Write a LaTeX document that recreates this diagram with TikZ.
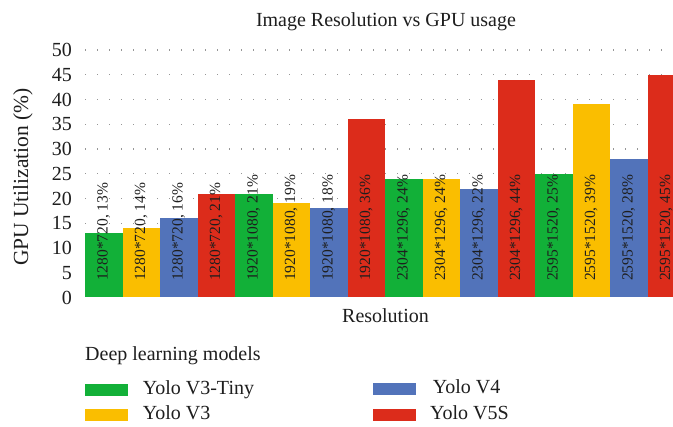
\documentclass[tikz,border=0pt]{standalone}
\usepackage{fontspec}
\setmainfont{Liberation Serif}
\definecolor{ygreen}{RGB}{18,176,56}
\definecolor{yyellow}{RGB}{250,190,0}
\definecolor{yblue}{RGB}{82,115,186}
\definecolor{yred}{RGB}{220,44,27}
\definecolor{ink}{RGB}{30,30,30}
\definecolor{gridgray}{RGB}{150,150,150}
\newcommand{\chartfont}{\fontsize{20}{24}\selectfont}
\newcommand{\yfont}{\fontsize{21.5}{24}\selectfont}
\newcommand{\barfont}{\fontsize{15.5}{18}\selectfont}
\tikzset{
  gridline/.style={gridgray, line width=1.4pt, dash pattern=on 1.4pt off 10.6pt},
  ticklabel/.style={anchor=east, inner sep=0pt, text=ink, font=\chartfont},
  axislabel/.style={inner sep=0pt, text=ink, font=\chartfont},
  barlabel/.style={anchor=west, rotate=90, inner sep=0pt, text=ink, font=\barfont},
  legtext/.style={anchor=base west, inner sep=0pt, text=ink, font=\chartfont},
}
\begin{document}
\begin{tikzpicture}[x=1pt,y=-1pt]
\clip (0,0) rectangle (673,427);
\fill[white] (0,0) rectangle (673,427);

% title
\node[axislabel, anchor=base] (title) at (386,26.7) {Image Resolution vs GPU usage};

% dotted grid lines and tick labels
\foreach \v in {5,10,...,50}
  \draw[gridline] (85,{297.5-\v*4.95}) -- (664,{297.5-\v*4.95});
\foreach \v in {0,5,...,50}
  \node[ticklabel] (tick\v) at (72,{297.5-\v*4.95}) {\v};

% axis titles
\node[axislabel, rotate=90, font=\yfont] (ylab) at (23,177) {GPU Utilization (\%)};
\node[axislabel, anchor=base] (xlab) at (385.5,322.3) {Resolution};

% bars with their labels
\foreach \i/\c/\v/\r in {
  0/ygreen/13/1280*720, 1/yyellow/14/1280*720, 2/yblue/16/1280*720, 3/yred/21/1280*720,
  4/ygreen/21/1920*1080, 5/yyellow/19/1920*1080, 6/yblue/18/1920*1080, 7/yred/36/1920*1080,
  8/ygreen/24/2304*1296, 9/yyellow/24/2304*1296, 10/yblue/22/2304*1296, 11/yred/44/2304*1296,
  12/ygreen/25/2595*1520, 13/yyellow/39/2595*1520, 14/yblue/28/2595*1520, 15/yred/45/2595*1520}
{
  \fill[\c] ({85+\i*37.5},297.5) rectangle ({85+(\i+1)*37.5},{297.5-\v*4.95});
  \node[barlabel] (lab\i) at ({85+(\i+0.5)*37.5},281) {\r, \v\%};
}

% legend
\node[axislabel, anchor=base west] (legtitle) at (85,360.7) {Deep learning models};
\fill[ygreen] (85,384.3) rectangle (128.3,395.7);
\node[legtext] (leg1) at (142.7,395) {Yolo V3-Tiny};
\fill[yyellow] (85,409) rectangle (128.3,420.7);
\node[legtext] (leg2) at (142.7,420) {Yolo V3};
\fill[yblue] (372.7,382.7) rectangle (416,394.7);
\node[legtext] (leg3) at (432.7,394) {Yolo V4};
\fill[yred] (372.7,409) rectangle (416,420.7);
\node[legtext] (leg4) at (430,420) {Yolo V5S};
\end{tikzpicture}
\end{document}
